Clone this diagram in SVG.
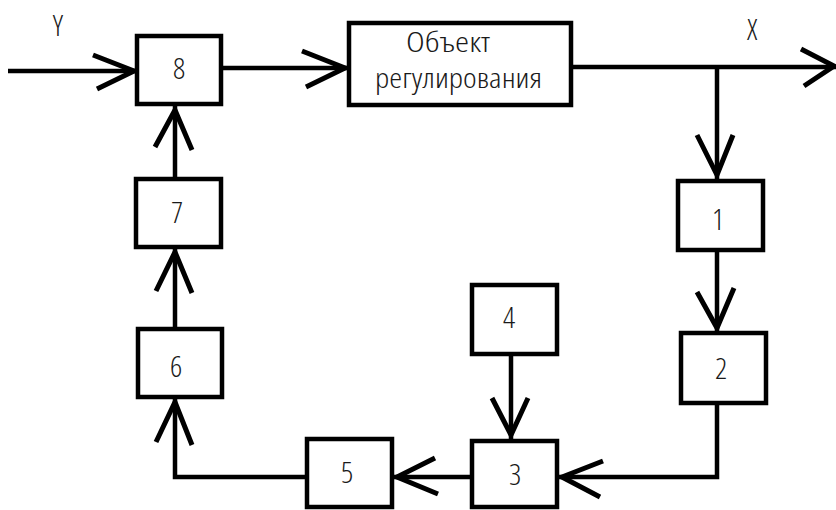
<svg xmlns="http://www.w3.org/2000/svg" width="836" height="510" viewBox="0 0 836 510">
<style>
.box{fill:#fff;stroke:#000;stroke-width:4.5}
.ln{fill:none;stroke:#000;stroke-width:4.5;stroke-linejoin:miter}
.ah{fill:none;stroke:#000;stroke-width:5;stroke-linejoin:miter;stroke-miterlimit:10}
.t{font-family:"Open Sans","DejaVu Sans Condensed","Liberation Sans",sans-serif;font-weight:300;font-stretch:75%;font-size:30px;fill:#1a1a1a;text-anchor:middle}
.c{font-family:"Open Sans","DejaVu Sans Condensed","Liberation Sans",sans-serif;font-weight:300;font-stretch:75%;font-size:28px;fill:#1a1a1a}
</style>
<rect width="836" height="510" fill="#fff"/>
<g id="connectors">
<line class="ln" x1="8" y1="71" x2="135" y2="71"/>
<polyline class="ah" points="93,55 134,71 97,89"/>
<line class="ln" x1="223" y1="68" x2="347" y2="68"/>
<polyline class="ah" points="302,51 345,68 306,87"/>
<line class="ln" x1="573" y1="67" x2="836" y2="67"/>
<polyline class="ah" points="801,49 834,66 804,86"/>
<line class="ln" x1="717" y1="67" x2="717" y2="179"/>
<polyline class="ah" points="697,135 717,175 733,135"/>
<line class="ln" x1="717" y1="252" x2="717" y2="331"/>
<polyline class="ah" points="697,292 717,328 734,288"/>
<polyline class="ln" points="717,405 717,477 559,477"/>
<polyline class="ah" points="603,461 562,477 600,497"/>
<line class="ln" x1="511" y1="356" x2="511" y2="439"/>
<polyline class="ah" points="492,398 511,435 528,398"/>
<line class="ln" x1="470" y1="477" x2="394" y2="477"/>
<polyline class="ah" points="435,458 397,477 438,494"/>
<polyline class="ln" points="307,477 175,477 175,399"/>
<polyline class="ah" points="156,442 175,402 192,445"/>
<line class="ln" x1="175" y1="327" x2="175" y2="249"/>
<polyline class="ah" points="156,291 175,252 192,293"/>
<line class="ln" x1="175" y1="177" x2="175" y2="106"/>
<polyline class="ah" points="155,147 175,110 192,150"/>
</g>
<g id="label-Y"><text class="t" x="58" y="36">Y</text></g>
<g id="label-X"><text class="t" x="752" y="40">X</text></g>
<g id="node8"><rect class="box" x="137" y="36" width="84" height="68"/><text class="t" x="179" y="79">8</text></g>
<g id="object"><rect class="box" x="349" y="23" width="222" height="82"/>
<text class="c" x="406" y="52" textLength="84" lengthAdjust="spacingAndGlyphs">Объект</text>
<text class="c" x="375" y="88" textLength="167" lengthAdjust="spacingAndGlyphs">регулирования</text></g>
<g id="node1"><rect class="box" x="678" y="181" width="85" height="69"/><text class="t" x="718" y="230">1</text></g>
<g id="node2"><rect class="box" x="681" y="333" width="85" height="70"/><text class="t" x="721" y="379">2</text></g>
<g id="node4"><rect class="box" x="472" y="285" width="85" height="69"/><text class="t" x="509" y="328">4</text></g>
<g id="node3"><rect class="box" x="472" y="441" width="85" height="66"/><text class="t" x="515" y="485">3</text></g>
<g id="node5"><rect class="box" x="307" y="439" width="85" height="68"/><text class="t" x="347" y="483">5</text></g>
<g id="node6"><rect class="box" x="138" y="329" width="84" height="68"/><text class="t" x="176" y="377">6</text></g>
<g id="node7"><rect class="box" x="136" y="179" width="85" height="68"/><text class="t" x="177" y="223">7</text></g>
</svg>
